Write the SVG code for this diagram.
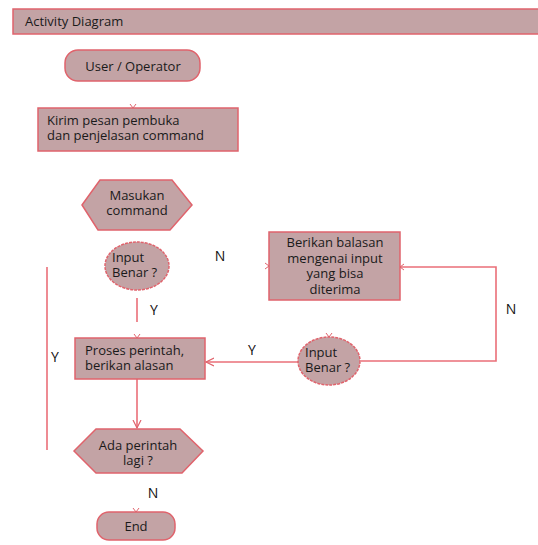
<svg xmlns="http://www.w3.org/2000/svg" width="538" height="545" viewBox="0 0 538 545">
<style>
.n{fill:#c3a3a5;stroke:#e0636c;stroke-width:1.5}
.t{font-family:"Open Sans","Noto Sans",sans-serif;font-size:13px;fill:#1a1a1a}
.c{stroke:#ea6f78;stroke-width:1.6;fill:none}
.m{stroke:#e0636c;stroke-width:1;fill:none}
.l{font-family:"Open Sans","Noto Sans",sans-serif;font-size:14px;fill:#111}
</style>
<defs>
<marker id="ah" markerWidth="10" markerHeight="10" refX="8" refY="5" orient="auto" markerUnits="userSpaceOnUse">
<path d="M0,1 L8,5 L0,9" fill="none" stroke="#e0636c" stroke-width="1.2"/>
</marker>
</defs>
<rect width="538" height="545" fill="#fff"/>
<g id="header">
<rect x="13" y="9" width="530" height="25" class="n"/>
<text x="25" y="26" class="t">Activity Diagram</text>
</g>
<g id="connectors">
<line x1="137" y1="298" x2="137" y2="322" class="c"/>
<line x1="137" y1="379" x2="137" y2="428" class="c" marker-end="url(#ah)"/>
<line x1="47" y1="267" x2="47" y2="450" class="c"/>
<polyline points="400,267 496,267 496,361 361,361" class="c"/>
<line x1="298" y1="362" x2="206" y2="362" class="c" marker-end="url(#ah)"/>
<path d="M130,104 L133,108 L136,104" class="m"/>
<path d="M326,333 L329,337 L332,333" class="m"/>
<path d="M134,334 L137,338 L140,334" class="m"/>
<path d="M133,508 L136,512 L139,508" class="m"/>
<path d="M265,263 L269,266 L265,269" class="m"/>
<path d="M404,264 L400,267 L404,270" class="m"/>
<text x="150" y="315" class="l">Y</text>
<text x="220" y="261" class="l" text-anchor="middle">N</text>
<text x="55" y="362" class="l" text-anchor="middle">Y</text>
<text x="252" y="355" class="l" text-anchor="middle">Y</text>
<text x="511" y="314" class="l" text-anchor="middle">N</text>
<text x="153" y="498" class="l" text-anchor="middle">N</text>
</g>
<g id="user">
<rect x="65" y="50" width="135" height="31" rx="13" class="n"/>
<text x="133" y="71" class="t" text-anchor="middle">User / Operator</text>
</g>
<g id="kirim">
<rect x="38" y="108" width="200" height="43" class="n"/>
<text x="47" y="125" class="t">Kirim pesan pembuka</text>
<text x="47" y="140" class="t">dan penjelasan command</text>
</g>
<g id="masukan">
<polygon points="82,205 100,180 172,180 192,205 170,230 98,230" class="n"/>
<text x="137" y="200" class="t" text-anchor="middle">Masukan</text>
<text x="137" y="215" class="t" text-anchor="middle">command</text>
</g>
<g id="input1">
<ellipse cx="137" cy="266" rx="32" ry="24" class="n" stroke-dasharray="3,1"/>
<text x="112" y="262" class="t">Input</text>
<text x="112" y="277" class="t">Benar ?</text>
</g>
<g id="berikan">
<rect x="269" y="232" width="131" height="68" class="n"/>
<text x="335" y="247" class="t" text-anchor="middle">Berikan balasan</text>
<text x="335" y="263" class="t" text-anchor="middle">mengenai input</text>
<text x="335" y="278" class="t" text-anchor="middle">yang bisa</text>
<text x="335" y="294" class="t" text-anchor="middle">diterima</text>
</g>
<g id="input2">
<ellipse cx="329" cy="361" rx="31" ry="24" class="n" stroke-dasharray="3,1"/>
<text x="305" y="357" class="t">Input</text>
<text x="305" y="372" class="t">Benar ?</text>
</g>
<g id="proses">
<rect x="75" y="338" width="130" height="41" class="n"/>
<text x="85" y="355" class="t">Proses perintah,</text>
<text x="85" y="370" class="t">berikan alasan</text>
</g>
<g id="ada">
<polygon points="74,451 96,429 180,429 203,451 182,473 96,473" class="n"/>
<text x="138" y="450" class="t" text-anchor="middle">Ada perintah</text>
<text x="138" y="465" class="t" text-anchor="middle">lagi ?</text>
</g>
<g id="end">
<rect x="97" y="512" width="78" height="28" rx="12" class="n"/>
<text x="136" y="531" class="t" text-anchor="middle">End</text>
</g>
</svg>
